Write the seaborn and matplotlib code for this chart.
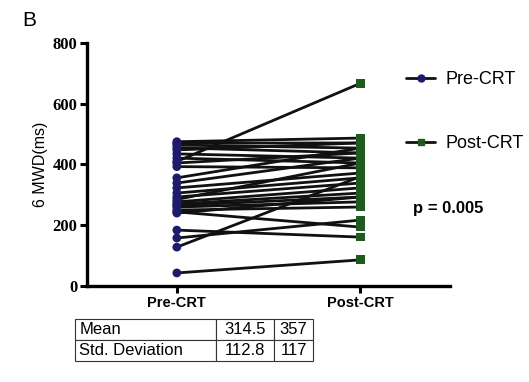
import numpy as np
import pandas as pd
import matplotlib
matplotlib.use("Agg")
import matplotlib.pyplot as plt
from matplotlib.lines import Line2D
import seaborn as sns

# ---- data ----
groups = ["Pre-CRT", "Post-CRT"]
pre_vals = [475, 470, 464, 455, 448, 435, 421, 410, 405, 393, 356, 339, 323, 306,
            293, 285, 277, 270, 265, 260, 250, 244, 240, 184, 158, 128, 43]
post_vals = [487, 471, 454, 438, 471, 421, 405, 667, 438, 389, 454, 421, 372, 356,
             339, 405, 323, 306, 293, 277, 260, 194, 293, 161, 217, 360, 86]
y_ticks = [0, 200, 400, 600, 800]
table_rows = ["Mean", "Std. Deviation"]
table_pre = ["314.5", "112.8"]
table_post = ["357", "117"]
p_text = "p = 0.005"
y_label = "6 MWD(ms)"
panel_label = "B"

pre_color = "#1c1c6b"
post_color = "#1f5a1f"

n = len(pre_vals)
df = pd.DataFrame({
    "subject": list(range(n)) * 2,
    "group": [groups[0]] * n + [groups[1]] * n,
    "value": pre_vals + post_vals,
})

sns.set_style("white")
plt.rcParams["font.family"] = ["Liberation Sans", "DejaVu Sans"]
for k in ["text.color", "axes.labelcolor", "xtick.color", "ytick.color"]:
    plt.rcParams[k] = "black"

fig = plt.figure(figsize=(5.29, 3.82), dpi=100)
ax = fig.add_axes([87 / 529, 1 - 286 / 382, (450 - 87) / 529, (286 - 43) / 382])

sns.lineplot(data=df, x="group", y="value", units="subject", estimator=None,
             color="#111111", linewidth=2.0, ax=ax, sort=False, legend=False)
sns.scatterplot(data=df, x="group", y="value", hue="group", style="group",
                palette={groups[0]: pre_color, groups[1]: post_color},
                markers={groups[0]: "o", groups[1]: "s"},
                s=40, edgecolor="none", ax=ax, legend=False, zorder=3)

ax.set_xlim(-0.49, 1.49)
ax.set_ylim(0, 800)
ax.set_yticks(y_ticks)
ax.set_yticklabels([str(t) for t in y_ticks], family="Liberation Serif",
                   fontweight="bold", fontsize=12)
ax.set_xticks([0, 1])
ax.set_xticklabels(groups, fontweight="bold", fontsize=10.5)
ax.set_xlabel("")
ax.set_ylabel(y_label, fontsize=11.5, labelpad=3)
for s in ["top", "right"]:
    ax.spines[s].set_visible(False)
for s in ["left", "bottom"]:
    ax.spines[s].set_linewidth(2.4)
    ax.spines[s].set_color("black")
ax.tick_params(axis="both", direction="out", length=5, width=2.2, color="black",
               left=True, bottom=True, pad=2)

handles = [
    Line2D([], [], color="#111111", lw=2.0, marker="o", markersize=5,
           markerfacecolor=pre_color, markeredgecolor=pre_color),
    Line2D([], [], color="#111111", lw=2.0, marker="s", markersize=5,
           markerfacecolor=post_color, markeredgecolor=post_color),
]
fig.legend(handles, groups, loc="upper left", bbox_to_anchor=(390 / 529, 1 - 55 / 382),
           frameon=False, fontsize=13, labelspacing=2.6, handlelength=1.6,
           handletextpad=0.6)

fig.text(413 / 529, 1 - 208 / 382, p_text, fontsize=12, fontweight="bold",
         va="center", ha="left")
fig.text(22 / 529, 1 - 20 / 382, panel_label, fontsize=15, va="center", ha="left")

# table
tax = fig.add_axes([75 / 529, 1 - 361 / 382, (313 - 75) / 529, 42 / 382])
tax.axis("off")
cells = [[table_rows[i], table_pre[i], table_post[i]] for i in range(len(table_rows))]
tbl = tax.table(cellText=cells, bbox=[0, 0, 1, 1],
                colWidths=[141, 58, 39], cellLoc="center")
tbl.auto_set_font_size(False)
for (r, c), cell in tbl.get_celld().items():
    cell.set_fontsize(12)
    cell.set_linewidth(0.8)
    cell.set_edgecolor("#333333")
    if c == 0:
        cell.get_text().set_horizontalalignment("left")
        cell.PAD = 0.03

fig.savefig("out.png", dpi=100)
